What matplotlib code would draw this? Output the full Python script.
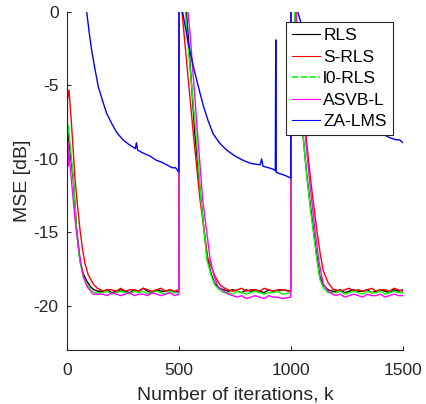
import matplotlib
matplotlib.use("Agg")
import matplotlib.pyplot as plt
from matplotlib.lines import Line2D

plt.rcParams["font.family"] = ["Liberation Sans", "DejaVu Sans"]
plt.rcParams["axes.unicode_minus"] = False

# shared iteration grids for the steady-state parts
floor1_k = [160, 180, 200, 220, 240, 260, 280, 300, 320, 340, 360, 380, 400, 420, 440, 460, 480, 499]
floor2_k = [720, 740, 760, 780, 800, 820, 840, 860, 880, 900, 920, 940, 960, 999]
floor3_k = [1200, 1220, 1240, 1260, 1280, 1300, 1320, 1340, 1360, 1380, 1400, 1420, 1440, 1460, 1480, 1500]

# RLS
rls_k1 = [0, 2, 6, 28, 43, 58, 72, 88, 105, 120, 140]
rls_v1 = [-15.6, -8.0, -8.4, -11.4, -14.8, -16.9, -17.8, -18.3, -18.7, -18.9, -19.0]
rls_f1 = [-19.0, -18.9, -19.1, -19.0, -18.9, -19.0, -19.1, -18.9, -19.0, -18.8, -19.0, -19.1, -18.9, -19.0, -19.0, -18.9, -19.1, -19.0]
rls_k2 = [501, 540, 571, 598, 625, 645, 661, 680, 700]
rls_v2 = [6.0, -1.4, -8.3, -12.8, -16.7, -17.9, -18.5, -18.8, -18.9]
rls_f2 = [-19.0, -18.9, -19.0, -19.1, -18.9, -19.0, -18.9, -19.0, -19.1, -18.9, -19.0, -19.0, -18.9, -19.0]
rls_k3 = [1001, 1030, 1055, 1070, 1085, 1100, 1115, 1129, 1145, 1165, 1185]
rls_v3 = [5.0, -4.5, -8.6, -11.0, -13.0, -14.8, -16.6, -18.0, -18.6, -18.9, -19.0]
rls_f3 = [-19.0, -18.9, -19.1, -19.0, -18.9, -19.0, -19.0, -18.9, -19.1, -19.0, -18.9, -19.0, -19.1, -18.9, -19.0, -18.9]

# S-RLS
srls_k1 = [0, 2, 9, 20, 36, 47, 58, 69, 80, 95, 117, 135, 150]
srls_v1 = [-15.0, -6.0, -5.3, -7.6, -11.4, -13.2, -14.8, -16.1, -17.1, -17.9, -18.5, -18.8, -18.9]
srls_f1 = [-19.0, -18.9, -18.9, -19.0, -18.8, -19.0, -18.9, -18.9, -19.0, -18.8, -18.9, -19.0, -18.9, -18.8, -19.0, -18.9, -19.0, -18.9]
srls_k2 = [501, 522, 564, 594, 628, 661, 685, 705]
srls_v2 = [2.0, -1.4, -8.3, -12.8, -16.7, -18.0, -18.6, -18.8]
srls_f2 = [-18.9, -19.0, -18.9, -18.8, -19.0, -18.9, -18.9, -19.0, -18.8, -18.9, -19.0, -18.9, -18.9, -19.0]
srls_k3 = [1001, 1040, 1070, 1092, 1115, 1130, 1144, 1165, 1189]
srls_v3 = [5.0, -4.2, -8.9, -12.0, -14.8, -16.4, -17.6, -18.4, -18.9]
srls_f3 = [-18.9, -19.0, -18.9, -18.8, -19.0, -18.9, -19.0, -18.9, -18.8, -19.0, -18.9, -18.9, -19.0, -18.8, -18.9, -19.0]

# l0-RLS
l0_k1 = [0, 2, 6, 28, 43, 58, 72, 88, 105, 120, 140]
l0_v1 = [-16.0, -7.6, -7.8, -11.2, -14.9, -17.0, -18.0, -18.5, -18.9, -19.1, -19.1]
l0_f1 = [-19.1, -19.0, -19.2, -19.1, -19.0, -19.1, -19.2, -19.0, -19.1, -19.0, -19.2, -19.1, -19.0, -19.1, -19.2, -19.0, -19.1, -19.1]
l0_k2 = [501, 535, 576, 598, 625, 645, 661, 680, 700]
l0_v2 = [6.0, -1.4, -8.3, -12.8, -16.9, -18.0, -18.6, -18.9, -19.1]
l0_f2 = [-19.1, -19.2, -19.0, -19.1, -19.2, -19.1, -19.0, -19.1, -19.2, -19.1, -19.1, -19.0, -19.2, -19.1]
l0_k3 = [1001, 1030, 1055, 1070, 1085, 1100, 1115, 1129, 1145, 1165, 1185]
l0_v3 = [5.0, -4.5, -8.6, -11.1, -13.2, -15.0, -16.8, -18.2, -18.8, -19.1, -19.1]
l0_f3 = [-19.1, -19.0, -19.2, -19.1, -19.0, -19.1, -19.2, -19.0, -19.1, -19.1, -19.0, -19.2, -19.1, -19.0, -19.1, -19.1]

# ASVB-L
asvb_k1 = [0, 2, 4, 6, 10, 20, 35, 51, 62, 73, 90, 117, 140]
asvb_v1 = [-13.0, -9.5, -10.5, -8.9, -9.8, -11.5, -14.0, -16.0, -17.1, -18.0, -18.7, -19.2, -19.2]
asvb_f1 = [-19.2, -19.3, -19.1, -19.2, -19.3, -19.2, -19.1, -19.3, -19.2, -19.2, -19.3, -19.1, -19.2, -19.3, -19.2, -19.1, -19.3, -19.2]
asvb_k2 = [501, 549, 583, 606, 638, 655, 675, 700]
asvb_v2 = [6.0, -1.4, -8.3, -12.8, -16.7, -17.9, -18.7, -19.0]
asvb_f2 = [-19.2, -19.3, -19.4, -19.3, -19.5, -19.4, -19.3, -19.4, -19.5, -19.3, -19.4, -19.4, -19.5, -19.4]
asvb_k3 = [1001, 1040, 1065, 1085, 1107, 1125, 1144, 1165, 1185]
asvb_v3 = [5.0, -4.4, -8.6, -11.8, -14.8, -17.0, -18.5, -19.0, -19.2]
asvb_f3 = [-19.3, -19.2, -19.4, -19.3, -19.2, -19.3, -19.4, -19.2, -19.3, -19.3, -19.2, -19.4, -19.3, -19.2, -19.3, -19.3]

# ZA-LMS
za_k = [0, 1, 88, 100, 110, 125, 140, 160, 177, 200, 222, 250, 275, 296, 305, 310, 315, 340, 370, 400, 420, 445, 470, 485, 499,
        501, 516, 540, 564, 585, 609, 630, 653, 680, 713, 750, 787, 820, 862, 869, 875, 900, 921, 930, 932, 934, 950, 970, 985, 999,
        1001, 1030, 1100, 1200, 1300, 1400, 1433, 1450, 1470, 1485, 1500]
za_v = [-12.0, 10.0, 0.0, -1.5, -2.6, -3.9, -5.1, -6.1, -6.9, -7.6, -8.2, -8.7, -9.0, -9.2, -9.3, -8.9, -9.4, -9.6, -9.8, -10.1, -10.2, -10.4, -10.6, -10.6, -10.9,
        10.0, 0.0, -2.0, -3.7, -5.0, -6.4, -7.4, -8.3, -8.9, -9.4, -9.8, -10.1, -10.3, -10.4, -10.0, -10.5, -10.6, -10.7, -10.8, -1.9, -10.9, -11.0, -11.1, -11.2, -11.3,
        10.0, 0.0, -3.5, -5.8, -7.2, -8.2, -8.5, -8.6, -8.7, -8.7, -8.9]

rls_k = rls_k1 + floor1_k + rls_k2 + floor2_k + rls_k3 + floor3_k
rls_v = rls_v1 + rls_f1 + rls_v2 + rls_f2 + rls_v3 + rls_f3
srls_k = srls_k1 + floor1_k + srls_k2 + floor2_k + srls_k3 + floor3_k
srls_v = srls_v1 + srls_f1 + srls_v2 + srls_f2 + srls_v3 + srls_f3
l0_k = l0_k1 + floor1_k + l0_k2 + floor2_k + l0_k3 + floor3_k
l0_v = l0_v1 + l0_f1 + l0_v2 + l0_f2 + l0_v3 + l0_f3
asvb_k = asvb_k1 + floor1_k + asvb_k2 + floor2_k + asvb_k3 + floor3_k
asvb_v = asvb_v1 + asvb_f1 + asvb_v2 + asvb_f2 + asvb_v3 + asvb_f3

fig = plt.figure(figsize=(4.26, 4.04), dpi=100)
ax = fig.add_axes([67 / 426, 54 / 404, 336 / 426, 338 / 404])

lw = 1.0
ax.plot(rls_k, rls_v, color="black", lw=lw)
ax.plot(srls_k, srls_v, color="#ff0000", lw=lw)
ax.plot(l0_k, l0_v, color="#00ff00", lw=lw)
ax.plot(asvb_k, asvb_v, color="#ff00ff", lw=lw)
ax.plot(za_k, za_v, color="#0000ff", lw=lw)

ax.set_xlim(0, 1500)
ax.set_ylim(-23, 0)
ax.set_xticks([0, 500, 1000, 1500])
ax.set_yticks([-20, -15, -10, -5, 0])
ax.spines["top"].set_visible(False)
ax.spines["right"].set_visible(False)
for s in ["left", "bottom"]:
    ax.spines[s].set_color("#262626")
    ax.spines[s].set_linewidth(0.8)
ax.tick_params(direction="in", length=3, width=0.8, colors="#262626", labelsize=12.5)
ax.tick_params(axis="x", pad=9.5)
ax.tick_params(axis="y", pad=6)
ax.set_xlabel("Number of iterations, k", fontsize=14, color="#262626", labelpad=6)
ax.set_ylabel("MSE [dB]", fontsize=14, color="#262626", labelpad=2)

handles = [
    Line2D([], [], color="black", lw=0.8),
    Line2D([], [], color="#ff0000", lw=0.8),
    Line2D([], [], color="#00ff00", lw=1.2, ls="--"),
    Line2D([], [], color="#ff00ff", lw=0.8),
    Line2D([], [], color="#0000ff", lw=0.8),
]
labels = ["RLS", "S-RLS", "l0-RLS", "ASVB-L", "ZA-LMS"]
leg = ax.legend(handles, labels, loc="upper right", bbox_to_anchor=(0.97, 0.97), borderaxespad=0,
                fontsize=12.5, fancybox=False, framealpha=1, edgecolor="#262626",
                handlelength=1.6, handletextpad=0.2, labelspacing=0.36, borderpad=0.35)
leg.get_frame().set_linewidth(0.8)

fig.savefig("out.png", dpi=100)
